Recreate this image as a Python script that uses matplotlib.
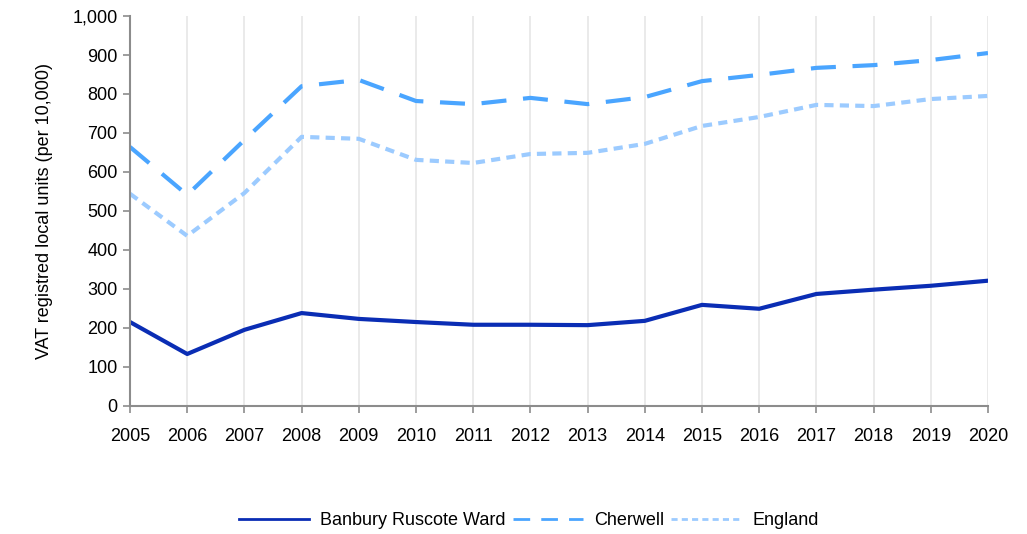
import matplotlib.pyplot as plt
from matplotlib.ticker import FuncFormatter

plt.rcParams['font.family'] = ['Liberation Sans', 'DejaVu Sans']

# Data
years = list(range(2005, 2021))
banbury = [215, 133, 195, 238, 223, 215, 208, 208, 207, 218, 259, 249, 287, 298, 308, 321]
cherwell = [664, 541, 682, 820, 836, 782, 774, 790, 774, 792, 833, 849, 867, 874, 887, 905]
england = [544, 436, 546, 690, 685, 631, 623, 646, 649, 672, 718, 741, 772, 769, 787, 795]

fig = plt.figure(figsize=(10.27, 5.34), dpi=100)
ax = fig.add_axes([0.1266, 0.240, 0.8354, 0.730])

ax.plot(years, banbury, color='#0a2db4', lw=3, label='Banbury Ruscote Ward')
ax.plot(years, cherwell, color='#4aa5ff', lw=3, dashes=(6, 4), label='Cherwell')
ax.plot(years, england, color='#9ccbff', lw=3, dashes=(2.2, 1.5), label='England')

ax.set_xlim(2005, 2020)
ax.set_ylim(0, 1000)
ax.set_xticks(years)
ax.set_yticks(range(0, 1001, 100))
ax.yaxis.set_major_formatter(FuncFormatter(lambda v, p: f"{int(v):,}"))
ax.grid(axis='x', color='#e6e6e6', lw=1.2)
ax.set_axisbelow(True)

for s in ['top', 'right']:
    ax.spines[s].set_visible(False)
for s in ['left', 'bottom']:
    ax.spines[s].set_color('#8c8c8c')
    ax.spines[s].set_linewidth(1.5)
ax.tick_params(colors='#8c8c8c', length=5, width=1.2, labelsize=13, labelcolor='black')
ax.tick_params(axis='y', pad=4)
ax.tick_params(axis='x', pad=11)

ax.set_ylabel('VAT registred local units (per 10,000)', fontsize=13, labelpad=14)

leg = fig.legend(loc='center', bbox_to_anchor=(0.515, 0.025), ncol=3, frameon=False,
                 fontsize=13, handlelength=3.9, handletextpad=0.6, columnspacing=0.4)
for h in leg.get_lines():
    h.set_linewidth(2)

fig.savefig('out.png', dpi=100)
